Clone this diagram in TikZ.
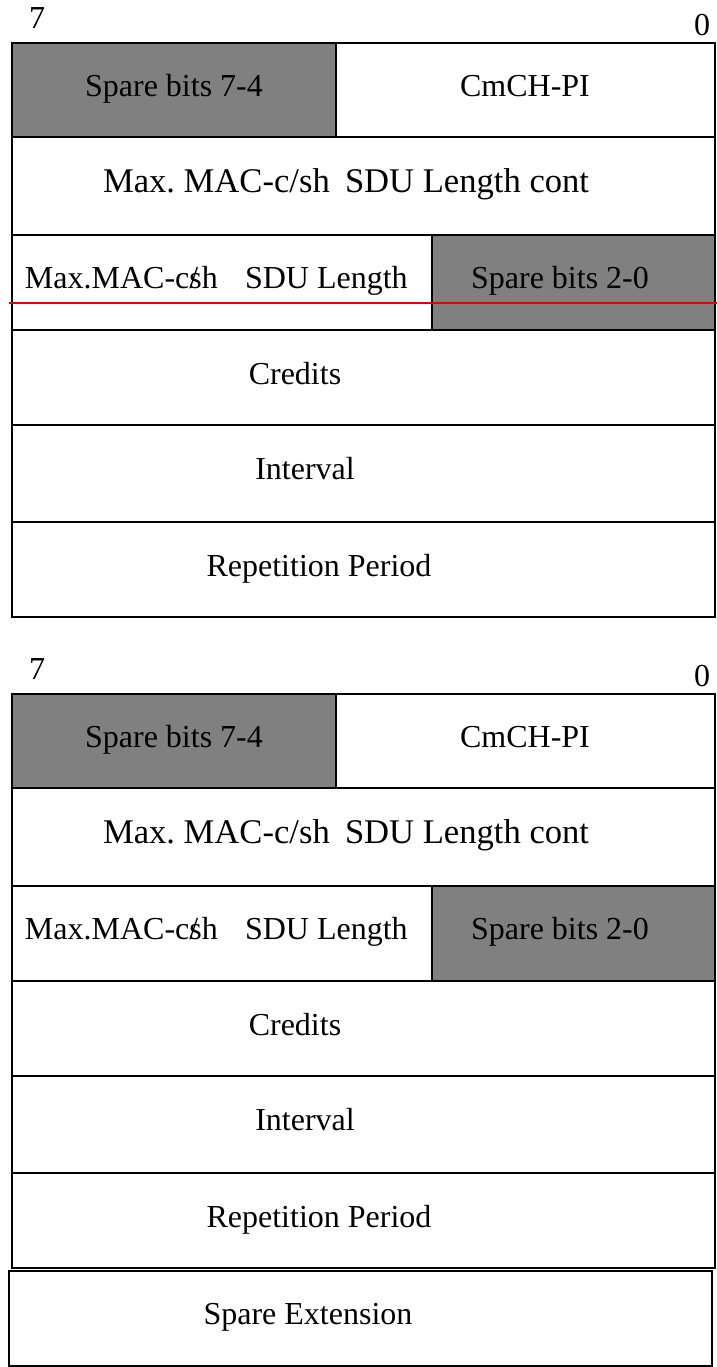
\documentclass[tikz,border=0pt]{standalone}
\usepackage{fontspec}
\setmainfont{Liberation Serif}
\usetikzlibrary{fit}
\frenchspacing
\definecolor{sparegray}{HTML}{808080}
\definecolor{markred}{HTML}{E60000}
\tikzset{
  cellbox/.style={draw=black, line width=1.3pt, inner sep=0pt, outer sep=0pt},
  sparebox/.style={cellbox, fill=sparegray},
  lbl/.style={inner sep=0pt, outer sep=0pt, font=\fontsize{16}{19}\selectfont, text height=0.66em, text depth=0pt},
  widelbl/.style={lbl, font=\fontsize{17.3}{20}\selectfont},
}
\begin{document}
\begin{tikzpicture}[x=0.5pt, y=-0.5pt]
\useasboundingbox (0,0) rectangle (717,1367);
\foreach \o/\t in {0/A, 651/B} {
  % bit numbers
  \node[lbl] (\t-seven) at (37,{22+\o}) {7};
  \node[lbl] (\t-zero) at (702,{29+\o}) {0};
  % row 1
  \node[sparebox, fit={(12,{43+\o}) (336,{137+\o})}] (\t-r1a) {};
  \node[cellbox, fit={(336,{43+\o}) (715,{137+\o})}] (\t-r1b) {};
  \node[lbl] (\t-r1at) at (174,{90+\o}) {Spare bits 7-4};
  \node[lbl] (\t-r1bt) at (525,{90+\o}) {CmCH-PI};
  % row 2
  \node[cellbox, fit={(12,{137+\o}) (715,{235+\o})}] (\t-r2) {};
  \node[widelbl, anchor=west] (\t-r2t1) at (103,{186+\o}) {Max. MAC-c/sh};
  \node[widelbl, anchor=west] (\t-r2t2) at (345,{186+\o}) {SDU Length cont};
  % row 3
  \node[cellbox, fit={(12,{235+\o}) (432,{330+\o})}] (\t-r3a) {};
  \node[sparebox, fit={(432,{235+\o}) (715,{330+\o})}] (\t-r3b) {};
  \node[lbl, anchor=west] (\t-r3t1) at (25,{282+\o}) {Max.MAC-c\rlap{/}sh};
  \node[lbl, anchor=west] (\t-r3t2) at (245,{282+\o}) {SDU Length};
  \node[lbl] (\t-r3bt) at (560,{282+\o}) {Spare bits 2-0};
  % rows 4-6
  \node[cellbox, fit={(12,{330+\o}) (715,{425+\o})}] (\t-r4) {};
  \node[lbl] (\t-r4t) at (295,{378+\o}) {Credits};
  \node[cellbox, fit={(12,{425+\o}) (715,{522+\o})}] (\t-r5) {};
  \node[lbl] (\t-r5t) at (305,{473+\o}) {Interval};
  \node[cellbox, fit={(12,{522+\o}) (715,{617+\o})}] (\t-r6) {};
  \node[lbl] (\t-r6t) at (319,{570+\o}) {Repetition Period};
}
% extension row of the second table
\node[cellbox, fit={(9,1271) (712,1366)}] (B-ext) {};
\node[lbl] (B-extt) at (308,1318) {Spare Extension};
% red marker line across the first table
\draw[markred, line width=0.8pt] (9,303) -- (717,303);
\end{tikzpicture}
\end{document}
